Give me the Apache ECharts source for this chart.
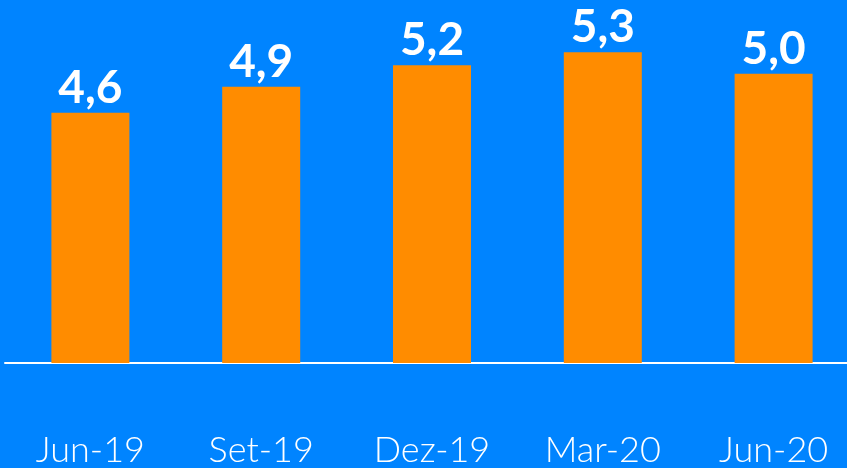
<!DOCTYPE html>
<html>
<head>
<meta charset="utf-8">
<script src="https://cdn.jsdelivr.net/npm/echarts@6/dist/echarts.min.js"></script>
<style>
  html, body { margin: 0; padding: 0; background: #0084FF; }
  #chart { width: 847px; height: 468px; }
</style>
</head>
<body>
<div id="chart"></div>
<script>
// trimestres
const categories = ['Jun-19', 'Set-19', 'Dez-19', 'Mar-20', 'Jun-20']
// valores
const values = [4.6, 4.9, 5.15, 5.3, 5.05]

const chart = echarts.init(document.getElementById('chart'))

chart.setOption({
    backgroundColor: '#0084FF',
    animation: false,
    grid: {
        left: 5,
        right: -12,
        top: 35,
        bottom: 105,
        outerBoundsMode: 'none'
    },
    xAxis: {
        type: 'category',
        data: categories,
        axisLine: {
            lineStyle: { color: '#ffffff', width: 2 }
        },
        axisTick: { show: false },
        axisLabel: {
            color: '#ffffff',
            fontFamily: 'Lato',
            fontWeight: 300,
            fontSize: 36,
            margin: 69
        }
    },
    yAxis: {
        type: 'value',
        min: 1.7,
        max: 5.5,
        show: false,
        splitLine: { show: false }
    },
    series: [
        {
            type: 'bar',
            data: values,
            barWidth: 78,
            itemStyle: { color: '#FF8C00' },
            label: {
                show: true,
                position: 'top',
                distance: 2,
                color: '#ffffff',
                fontFamily: 'Lato',
                fontWeight: 'bold',
                fontSize: 46,
                formatter: p => p.value.toFixed(1).replace('.', ',')
            }
        }
    ]
})
</script>
</body>
</html>
